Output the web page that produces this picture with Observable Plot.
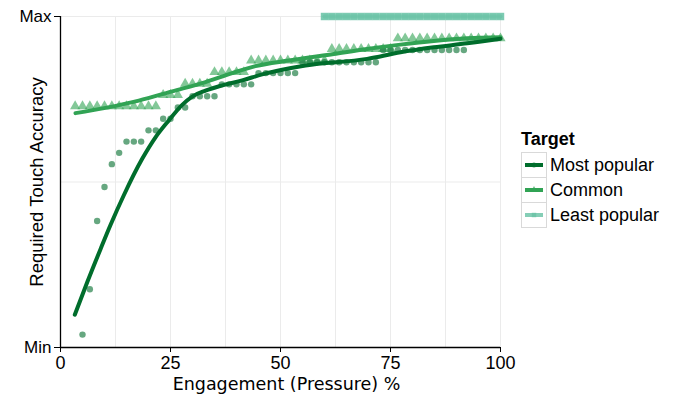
<!DOCTYPE html>
<html>
<head>
<meta charset="utf-8">
<script src="https://cdn.jsdelivr.net/npm/d3@7"></script>
<script src="https://cdn.jsdelivr.net/npm/@observablehq/plot@0.6"></script>
<style>
  html, body { margin: 0; padding: 0; background: #fff; }
  #wrap { position: relative; width: 675px; height: 399px; font-family: "Liberation Sans", Arial, sans-serif; }
  #legend { position: absolute; left: 521px; top: 129px; font-size: 18px; color: #000; }
  #legend .title { font-weight: bold; height: 23px; line-height: 20px; }
  #legend .row { display: flex; align-items: center; height: 25px; }
  #legend svg { display: block; }
  #legend .lab { margin-left: 3px; line-height: 20px; }
</style>
</head>
<body>
<div id="wrap"><div id="chart"></div><div id="legend"></div></div>
<script>
// ---- data ----
const xTicks = [0, 25, 50, 75, 100];
const xGrid = [12.5, 25, 37.5, 50, 62.5, 75, 87.5, 100];
const yTickValues = [0, 1];
const yTickLabels = ["Min", "Max"];
const yGrid = [0.5, 1];

const seriesNames = ["Most popular", "Common", "Least popular"];
const seriesColors = ["#006d2c", "#31a354", "#66c2a4"];

// Most popular: observed points
const mostX = [5, 6.67, 8.33, 10, 11.67, 13.33, 15, 16.67, 18.33, 20, 21.67, 23.33, 25, 26.67, 28.33,
  30, 31.67, 33.33, 35, 36.67, 38.33, 40, 41.67, 43.33, 45, 46.67, 48.33, 50, 51.67, 53.33,
  55, 56.67, 58.33, 60, 61.67, 63.33, 65, 66.67, 68.33, 70, 71.67,
  73.33, 75, 76.67, 78.33, 80, 81.67, 83.33, 85, 86.67, 88.33, 90, 91.67];
const mostY = [0.039, 0.176, 0.382, 0.485, 0.554, 0.588, 0.622, 0.622, 0.622, 0.656, 0.656, 0.691, 0.691, 0.725, 0.725,
  0.759, 0.759, 0.759, 0.759, 0.795, 0.795, 0.795, 0.795, 0.795, 0.829, 0.829, 0.829, 0.829, 0.829, 0.829,
  0.862, 0.862, 0.862, 0.862, 0.862, 0.862, 0.862, 0.862, 0.862, 0.862, 0.862,
  0.899, 0.899, 0.899, 0.899, 0.899, 0.899, 0.899, 0.899, 0.899, 0.899, 0.899, 0.899];

// Common: observed points
const commonX = [3.33, 5, 6.67, 8.33, 10, 11.67, 13.33, 15, 16.67, 18.33, 20, 21.67,
  23.33, 25, 26.67,
  28.33, 30, 31.67, 33.33,
  35, 36.67, 38.33, 40, 41.67,
  43.33, 45, 46.67, 48.33, 50, 51.67, 53.33, 55, 56.67, 58.33, 60,
  61.67, 63.33, 65, 66.67, 68.33, 70, 71.67, 73.33, 75,
  76.67, 78.33, 80, 81.67, 83.33, 85, 86.67, 88.33, 90, 91.67, 93.33, 95, 96.67, 98.33, 100];
const commonY = [0.729, 0.729, 0.729, 0.729, 0.729, 0.729, 0.729, 0.729, 0.729, 0.729, 0.729, 0.729,
  0.763, 0.763, 0.763,
  0.797, 0.797, 0.797, 0.797,
  0.832, 0.832, 0.832, 0.832, 0.832,
  0.867, 0.867, 0.867, 0.867, 0.867, 0.867, 0.867, 0.867, 0.867, 0.867, 0.867,
  0.902, 0.902, 0.902, 0.902, 0.902, 0.902, 0.902, 0.902, 0.902,
  0.934, 0.934, 0.934, 0.934, 0.934, 0.934, 0.934, 0.934, 0.934, 0.934, 0.934, 0.934, 0.934, 0.934, 0.934];

// Least popular: observed points
const leastX = [60, 61.67, 63.33, 65, 66.67, 68.33, 70, 71.67, 73.33, 75, 76.67, 78.33, 80,
  81.67, 83.33, 85, 86.67, 88.33, 90, 91.67, 93.33, 95, 96.67, 98.33, 100];
const leastY = [1, 1, 1, 1, 1, 1, 1, 1, 1, 1, 1, 1, 1, 1, 1, 1, 1, 1, 1, 1, 1, 1, 1, 1, 1];

// Fitted curves
const mostFitX = [3.25, 6.07, 9.09, 11.36, 14.39, 18.57, 21.59, 24.61, 27.66, 29.93, 32.95, 36.75, 41.3, 45.84, 50.39, 55.68, 69.7, 77.27, 84.84, 92.43, 100];
const mostFitY = [0.099, 0.197, 0.297, 0.370, 0.460, 0.570, 0.635, 0.686, 0.733, 0.758, 0.776, 0.792, 0.807, 0.825, 0.839, 0.852, 0.872, 0.892, 0.907, 0.919, 0.933];
const commonFitX = [3.41, 10.23, 17.8, 25.39, 32.95, 39.02, 44.3, 51.9, 62.1, 69.7, 77.27, 84.84, 92.43, 100];
const commonFitY = [0.708, 0.724, 0.746, 0.774, 0.802, 0.829, 0.85, 0.867, 0.887, 0.902, 0.915, 0.926, 0.934, 0.937];
const leastFitX = [60, 100];
const leastFitY = [1, 1];

// ---- build tables ----
const zip = (xs, ys) => xs.map((x, i) => ({x, y: ys[i]}));
const mostPts = zip(mostX, mostY), commonPts = zip(commonX, commonY), leastPts = zip(leastX, leastY);
const mostFit = zip(mostFitX, mostFitY), commonFit = zip(commonFitX, commonFitY), leastFit = zip(leastFitX, leastFitY);

const chart = Plot.plot({
  width: 675,
  height: 399,
  marginLeft: 60,
  marginRight: 175,
  marginTop: 16,
  marginBottom: 52,
  style: {fontFamily: "Liberation Sans, Arial, sans-serif", fontSize: "17px", color: "#000", background: "#fff"},
  x: {domain: [0, 100]},
  y: {domain: [0, 1]},
  marks: [
    Plot.ruleX(xGrid, {stroke: "#ebebeb", strokeWidth: 1}),
    Plot.ruleY(yGrid, {stroke: "#ebebeb", strokeWidth: 1}),
    Plot.dot(leastPts, {x: "x", y: "y", symbol: "square", r: 4.2, fill: seriesColors[2], fillOpacity: 0.85, stroke: "none"}),
    Plot.line(leastFit, {x: "x", y: "y", stroke: seriesColors[2], strokeWidth: 4, strokeOpacity: 0.6}),
    Plot.dot(commonPts, {x: "x", y: "y", symbol: "triangle", r: 3.8, fill: seriesColors[1], fillOpacity: 0.6, stroke: "none"}),
    Plot.dot(mostPts, {x: "x", y: "y", r: 3.2, fill: seriesColors[0], fillOpacity: 0.6, stroke: "none"}),
    Plot.line(commonFit, {x: "x", y: "y", stroke: seriesColors[1], strokeWidth: 4, curve: "monotone-x"}),
    Plot.line(mostFit, {x: "x", y: "y", stroke: seriesColors[0], strokeWidth: 4, curve: "monotone-x"}),
    Plot.ruleY([0], {stroke: "#000", strokeWidth: 1.3}),
    Plot.ruleX([0], {stroke: "#000", strokeWidth: 1.3}),
    Plot.axisX({ticks: xTicks, tickSize: 5, tickPadding: 4, fontSize: 18, label: null, tickFormat: d => String(d)}),
    Plot.axisY({ticks: yTickValues, tickSize: 6, tickPadding: 3, fontSize: 17, label: null, tickFormat: d => yTickLabels[yTickValues.indexOf(d)]}),
    Plot.text(["Engagement (Pressure) %"], {frameAnchor: "bottom", dy: 42, dx: 6, fontSize: 17.5, fontFamily: "DejaVu Sans, sans-serif"}),
    Plot.text(["Required Touch Accuracy"], {frameAnchor: "left", textAnchor: "middle", dx: -23, rotate: -90, fontSize: 18.5})
  ]
});
document.getElementById("chart").appendChild(chart);

// ---- legend ----
const legend = document.getElementById("legend");
const t = document.createElement("div");
t.className = "title"; t.textContent = "Target";
legend.appendChild(t);
const box = document.createElement("div");
legend.appendChild(box);
const ns = "http://www.w3.org/2000/svg";
const symbolTypes = [d3.symbolCircle, d3.symbolTriangle, d3.symbolSquare];
seriesNames.forEach((name, i) => {
  const row = document.createElement("div");
  row.className = "row";
  const s = document.createElementNS(ns, "svg");
  s.setAttribute("width", 24); s.setAttribute("height", 24);
  s.style.borderRight = "1px solid #d9d9d9";
  s.style.borderLeft = "1px solid #d9d9d9";
  s.style.borderTop = "1px solid #d9d9d9";
  if (i === seriesNames.length - 1) s.style.borderBottom = "1px solid #d9d9d9";
  const l = document.createElementNS(ns, "line");
  l.setAttribute("x1", 3); l.setAttribute("x2", 21); l.setAttribute("y1", 12); l.setAttribute("y2", 12);
  l.setAttribute("stroke", seriesColors[i]); l.setAttribute("stroke-width", 4);
  if (i === 2) l.setAttribute("stroke-opacity", 0.8);
  s.appendChild(l);
  const p = document.createElementNS(ns, "path");
  p.setAttribute("d", d3.symbol(symbolTypes[i], 20)());
  p.setAttribute("transform", "translate(12,12)");
  p.setAttribute("fill", seriesColors[i]); p.setAttribute("fill-opacity", 0.7);
  s.appendChild(p);
  row.appendChild(s);
  const lab = document.createElement("span");
  lab.className = "lab"; lab.textContent = name;
  row.appendChild(lab);
  box.appendChild(row);
});
</script>
</body>
</html>
